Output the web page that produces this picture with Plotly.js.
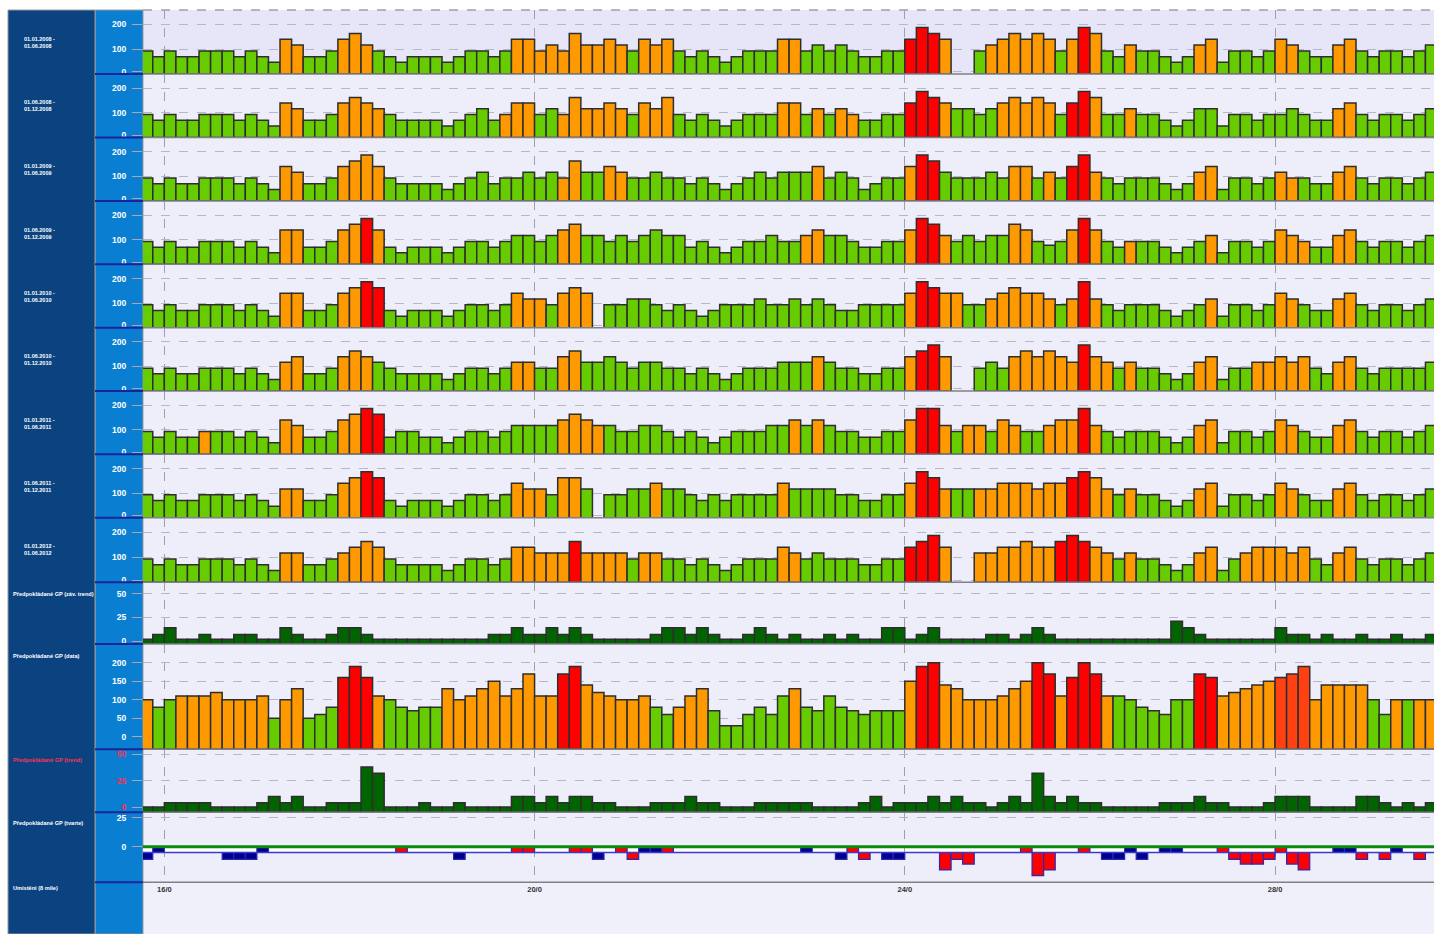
<!DOCTYPE html>
<html><head><meta charset="utf-8">
<script src="https://cdn.plot.ly/plotly-3.0.1.min.js"></script>
<style>html,body{margin:0;padding:0;background:#fff;overflow:hidden}#chart{width:1434px;height:934px}</style>
</head><body><div id="chart"></div>
<script>
// ---------------- DATA ----------------
const rowLabels = ['01.01.2008 -<br>01.06.2008','01.06.2008 -<br>01.12.2008','01.01.2009 -<br>01.06.2009','01.06.2009 -<br>01.12.2009','01.01.2010 -<br>01.06.2010','01.06.2010 -<br>01.12.2010','01.01.2011 -<br>01.06.2011','01.06.2011 -<br>01.12.2011','01.01.2012 -<br>01.06.2012'];
const tickLabelsX = ['16/0','20/0','24/0','28/0'];

const row1 = [93,70,93,70,70,93,93,93,70,93,70,47,140,117,70,70,93,140,163,117,93,70,47,70,70,70,47,70,93,93,70,93,140,140,93,117,93,163,117,117,140,117,93,140,117,140,93,70,93,70,47,70,93,93,93,140,140,93,117,93,117,93,70,70,93,93,140,187,163,140,null,null,93,117,140,163,140,163,140,93,140,187,163,93,70,117,93,93,70,47,70,117,140,47,93,93,70,93,140,117,93,70,70,117,140,93,70,93,93,70,93,117];
const row1c = 'g12 o2 g3 o3 g12 o10 g1 o3 g9 o2 g9 r3 o1 -2 g1 o6 g1 o1 r1 o1 g2 o1 g5 o2 g5 o2 g3 o2 g7';
const row2 = [93,70,93,70,70,93,93,93,70,93,70,47,140,117,70,70,93,140,163,140,117,93,70,70,70,70,47,70,93,117,70,93,140,140,93,117,93,163,117,117,140,117,93,140,117,163,93,70,93,70,47,70,93,93,93,140,140,93,117,93,117,93,70,70,93,93,140,187,163,140,117,117,93,117,140,163,140,163,140,93,140,187,163,93,93,117,93,93,70,47,70,117,117,47,93,93,70,93,93,117,93,70,70,117,140,93,70,93,93,70,93,117];
const row2c = 'g12 o2 g3 o4 g10 o3 g2 o6 g1 o3 g9 o2 g1 o1 g1 o2 g4 r3 o1 g4 o5 g1 r2 o1 g2 o1 g17 o2 g7';
const row3 = [93,70,93,70,70,93,93,93,70,93,70,47,140,117,70,70,93,140,163,187,140,93,70,70,70,70,47,70,93,117,70,93,93,117,93,117,93,163,117,117,140,117,93,93,117,93,93,70,93,70,47,70,93,117,93,117,117,117,140,93,117,93,47,70,93,93,140,187,163,117,93,93,93,117,93,140,140,93,117,93,140,187,117,93,70,93,93,93,70,47,70,117,140,47,93,93,70,93,117,93,93,70,70,117,140,93,70,93,93,70,93,117];
const row3c = 'g12 o2 g3 o4 g15 o2 g2 o2 g16 o1 g7 o1 r2 g6 o2 g1 o1 g1 r2 o1 g8 o2 g5 o2 g3 o2 g7';
const row4 = [93,70,93,70,70,93,93,93,70,93,70,47,140,140,70,70,93,140,163,187,140,70,47,70,70,70,47,70,93,93,70,93,117,117,93,117,140,163,117,117,93,117,93,117,140,117,117,70,93,70,47,70,93,93,117,93,93,117,140,117,117,93,70,70,93,93,140,187,163,117,93,117,93,117,117,163,140,93,78,93,140,187,140,93,70,93,93,93,70,47,70,93,117,47,93,93,70,93,140,117,93,70,70,117,140,93,70,93,93,70,93,117];
const row4c = 'g12 o2 g3 o2 r1 o1 g15 o2 g19 o2 g7 o1 r2 o1 g5 o2 g3 o1 r1 o1 g2 o1 g6 o1 g5 o3 g2 o2 g7';
const row5 = [93,70,93,70,70,93,93,93,70,93,70,47,140,140,70,70,93,140,163,187,163,70,47,70,70,70,47,70,93,93,70,93,140,117,117,93,140,163,140,null,93,93,117,117,93,70,93,70,47,70,93,93,93,117,93,93,117,93,117,93,70,70,93,93,93,93,140,187,163,140,140,93,93,117,140,163,140,140,117,93,117,187,117,93,70,93,93,93,70,47,70,93,117,47,93,93,70,93,140,117,93,70,70,117,140,93,70,93,93,70,93,117];
const row5c = 'g12 o2 g3 o2 r2 g11 o3 g1 o3 -1 g26 o1 r2 o2 g2 o6 g1 o1 r1 o1 g9 o1 g5 o2 g3 o2 g7';
const row6 = [93,70,93,70,70,93,93,93,70,93,70,47,117,140,70,70,93,140,163,140,117,93,70,70,70,70,47,70,93,93,70,93,117,117,93,93,140,163,117,117,140,117,93,117,117,93,93,70,93,70,47,70,93,93,93,117,117,117,140,117,93,93,70,70,93,93,140,163,187,140,null,null,93,117,93,140,163,140,163,140,117,187,140,117,93,117,93,93,70,47,70,117,140,47,93,93,117,117,140,117,140,93,70,117,140,93,70,93,93,93,93,117];
const row6c = 'g12 o2 g3 o3 g12 o2 g2 o2 g20 o1 g7 o1 r2 o1 -2 g3 o6 r1 o2 g1 o1 g5 o2 g3 o5 g2 o2 g7';
const row7 = [93,70,93,70,70,93,93,93,70,93,70,47,140,117,70,70,93,140,163,187,163,70,93,93,70,70,47,70,93,93,70,93,117,117,117,117,140,163,140,117,117,93,93,117,117,93,70,93,70,47,70,93,93,93,117,117,140,117,140,117,93,93,70,70,93,93,140,187,187,117,93,117,117,93,140,117,93,93,117,140,140,187,117,93,70,93,93,93,70,47,70,117,140,47,93,93,70,93,140,117,93,70,70,117,140,93,70,93,93,70,93,117];
const row7c = 'g5 o1 g6 o2 g3 o2 r2 g11 g4 o4 g15 g1 o1 g1 o1 g7 o1 r2 o1 g1 o2 g1 o2 g2 o3 r1 o1 g8 o2 g5 o2 g3 o2 g7';
const row8 = [93,70,93,70,70,93,93,93,70,93,70,47,117,117,70,70,93,140,163,187,163,70,47,70,70,70,47,70,93,93,70,93,140,117,117,93,163,163,117,null,93,93,117,117,140,117,117,93,70,93,70,93,93,93,93,140,117,117,117,117,93,93,70,70,93,93,140,187,163,117,117,117,117,117,140,140,140,117,140,140,163,187,163,117,93,117,93,93,70,47,70,117,140,47,93,93,70,93,140,117,93,70,70,117,140,93,70,93,93,70,93,117];
const row8c = 'g12 o2 g3 o2 r2 g11 o3 g1 o2 g1 -1 g4 o1 g10 o1 g10 o1 r2 o1 g2 o8 r2 o2 g1 o1 g5 o2 g5 o2 g3 o2 g7';
const row9 = [93,70,93,70,70,93,93,93,70,93,70,47,117,117,70,70,93,117,140,163,140,93,70,70,70,70,47,70,93,93,70,93,140,140,117,117,117,163,117,117,117,117,93,117,117,93,93,70,93,70,47,70,93,93,93,140,117,93,117,93,93,93,70,70,93,93,140,163,187,140,null,null,117,117,140,140,163,140,140,163,187,163,140,117,93,117,93,93,70,47,70,117,140,47,93,117,140,140,140,117,140,93,70,117,140,93,70,93,93,70,93,117];
const row9c = 'g12 o2 g3 o4 g11 o5 r1 o4 g1 o2 g10 o2 g9 r3 o1 -2 o7 r3 o2 g1 o1 g5 o2 g2 o6 g2 o2 g7';

// Předpokládané GP (záv. trend)
const trendZ = [2,7,14,2,2,7,2,2,7,7, 2,2,14,7,2,2,7,14,14,7, 2,2,2,2,2,2,2,2,2,2, 7,7,14,7,7,14,7,14,7,2, 2,2,2,2,7,14,14,7,14,7, 2,2,7,14,7,2,7,2,2,7, 2,7,2,2,14,14,2,7,14,2, 2,2,2,7,7,2,7,14,7,2, 2,2,2,2,2,2,2,2,2,21, 14,7,2,2,2,2,2,2,14,7, 7,2,7,2,2,7,2,2,7,2, 2,7];
// Předpokládané GP (data)
const dataGP = [100,80,100,110,110,110,120,100,100,100, 110,50,100,130,50,60,80,160,190,160, 110,100,80,70,80,80,130,100,110,130, 150,110,130,170,110,110,170,190,140,120, 110,100,100,110,80,60,80,110,130,70, 30,30,60,80,60,110,130,80,70,110, 80,70,60,70,70,70,150,190,200,140, 130,100,100,100,110,130,150,200,170,110, 160,200,170,110,110,100,80,70,60,100, 100,170,160,110,120,130,140,150,160,170, 190,100,140,140,140,140,100,60,100,100, 100,100];
const dataGPc = 'o1 g2 o8 g1 o2 g3 r3 o1 g5 o10 r2 o6 g2 o3 g7 o1 g9 o1 r2 o8 r2 o1 r3 o1 g7 r2 o5 R3 o5 g2 o1 g1 o2';
// Předpokládané GP (trend)
const trendT = [0,0,4,4,4,4,0,0,0,0, 4,10,4,10,0,0,4,4,4,38, 32,0,0,0,4,0,0,4,0,0, 0,0,10,10,4,10,4,10,10,4, 4,0,0,0,4,4,4,10,4,4, 0,0,0,4,4,4,4,4,0,0, 0,0,4,10,0,4,4,4,10,4, 10,4,4,0,4,10,4,32,10,4, 10,4,4,0,0,0,0,0,4,4, 4,10,4,4,0,0,0,4,10,10, 10,0,0,0,0,10,10,4,0,4, 0,4];
// Předpokládané GP (tvarte): small deviations inside the band, larger ones below it
const devTopC = '.n........' + 'n.........' + '..r.......' + '..rr...rr.' + '.r.nnr....' + '.......n..' + '.r........' + '......r...' + '.r...n..nn' + '...r....r.' + '...nn...n.' + '..';
const devLow = [-11,null,null,null,null,null,null,-11,-11,-11, null,null,null,null,null,null,null,null,null,null, null,null,null,null,null,null,null,-11,null,null, null,null,null,null,null,null,null,null,null,-11, null,null,-11,null,null,null,null,null,null,null, null,null,null,null,null,null,null,null,null,null, -11,null,-11,null,-11,-11,null,null,null,-20, -11,-15,null,null,null,null,null,-25,-20,null, null,null,null,-11,-11,null,-11,null,null,null, null,null,null,null,-11,-15,-15,-11,null,-15, -20,null,null,null,null,-11,null,-11,null,null, -11,null];
const devLowC = 'n......nnn' + '..........' + '.......n..' + '.........n' + '..r.......' + '..........' + 'n.r.nn...r' + 'rr.....rr.' + '...nn.n...' + '....rrrr.r' + 'r....r.r..' + 'r.';

// ---------------- HELPERS ----------------
const W = 1434, H = 934, N = 112;
const FONT = 'Liberation Sans, Arial, sans-serif';
const PAL = {g:'#66cc00', o:'#ff9900', r:'#ff0000', R:'#ff4010', d:'#006400', n:'#00008b', '-':'rgba(0,0,0,0)', '.':'rgba(0,0,0,0)'};
function runs(s){const out=[];s.split(' ').forEach(t=>{const c=t[0],n=+t.slice(1);for(let i=0;i<n;i++)out.push(PAL[c]);});while(out.length<N)out.push(PAL.g);return out.slice(0,N);}
const codes = s => s.split('').map(c => PAL[c]);
const px = v => v / W, py = v => 1 - v / H;

const t0 = Date.UTC(2000, 0, 15, 18, 0);     // first 3-hour slot starts 15/18
const SLOT = 3 * 3600e3;
const iso = ms => new Date(ms).toISOString().slice(0, 19).replace('T', ' ');
const xs = Array.from({length: N}, (_, i) => iso(t0 + i * SLOT + SLOT / 2));
const xRange = [iso(t0 + 0.156 * SLOT), iso(t0 + 111.74 * SLOT)];

const bounds = [10, 74, 137.5, 201, 264.3, 327.7, 391, 454.3, 517.7, 582.3, 644, 749.3, 812.3, 882.3];
const rows = [row1,row2,row3,row4,row5,row6,row7,row8,row9];
const rowsC = [row1c,row2c,row3c,row4c,row5c,row6c,row7c,row8c,row9c];

const traces = [];
const layout = {
  width: W, height: H, margin: {l:0, r:0, t:0, b:0},
  paper_bgcolor: '#ffffff', plot_bgcolor: '#eeeefa',
  showlegend: false, barmode: 'overlay', bargap: 0,
  font: {family: FONT},
  xaxis: {type:'date', domain:[px(143), 1], range: xRange, anchor:'y13',
    tickvals: ['2000-01-16','2000-01-20','2000-01-24','2000-01-28'], ticktext: tickLabelsX,
    showgrid:true, gridcolor:'#a0a0a8', griddash:'dash', gridwidth:1, zeroline:false, showline:false,
    ticks:'', tickfont:{family:FONT, size:7.5, color:'#333', weight:700}, ticklabelstandoff:1, fixedrange:true},
  shapes: [], annotations: []
};

function yax(i, range, tickvals, ticktext, extra){
  const top = bounds[i], bot = bounds[i+1];
  return Object.assign({domain:[py(bot), py(top)], range, anchor:'x', tickvals, ticktext,
    showgrid:true, gridcolor:'#b8b8c4', griddash:'dash', gridwidth:1, zeroline:false, showline:false,
    ticks:'outside', ticklen:10, tickcolor:'#a8a8b4', tickwidth:1, ticklabelstandoff:4,
    tickfont:{family:FONT, size:8.5, color:'#ffffff', weight:700}, fixedrange:true}, extra||{});
}

const barLine = {color:'#2e2e2e', width:1.5};
rows.forEach((vals, k) => {
  const ax = k === 0 ? '' : String(k+1);
  traces.push({type:'bar', x: xs, y: vals, yaxis:'y'+ax, marker:{color: runs(rowsC[k]), line: barLine}, hoverinfo:'skip'});
  layout['yaxis'+ax] = yax(k, [0, 258], [9,100,200], ['0','100','200']);
});
const b10 = -3;
traces.push({type:'bar', x: xs, y: trendZ.map(v => v - b10), base: b10, yaxis:'y10', marker:{color: PAL.d, line: barLine}, hoverinfo:'skip'});
layout.yaxis10 = yax(9, [-3, 62], [0,25,50], ['0','25','50']);
const b11 = -34;
traces.push({type:'bar', x: xs, y: dataGP.map(v => v - b11), base: b11, yaxis:'y11', marker:{color: runs(dataGPc), line: barLine}, hoverinfo:'skip'});
layout.yaxis11 = yax(10, [-34, 251], [0,50,100,150,200], ['0','50','100','150','200']);
const b12 = -5;
traces.push({type:'bar', x: xs, y: trendT.map(v => v - b12), base: b12, yaxis:'y12', marker:{color: PAL.d, line: barLine}, hoverinfo:'skip'});
layout.yaxis12 = yax(11, [-5, 54.7], [0,25,50], ['0','25','50'], {tickfont:{family:FONT, size:8.5, color:'#ff3050', weight:700}});
const band = -5;
traces.push({type:'bar', x: xs, y: devTopC.split('').map(c => c === '.' ? null : band), base: 0, yaxis:'y13',
  marker:{color: codes(devTopC), line:{color:'#2828b8', width:1.2}}, hoverinfo:'skip'});
traces.push({type:'bar', x: xs, y: devLow.map(v => v === null ? null : v - band), base: band, yaxis:'y13',
  marker:{color: codes(devLowC), line:{color:'#2828b8', width:1.2}}, hoverinfo:'skip'});
layout.yaxis13 = yax(12, [-30.7, 29.7], [0,25], ['0','25']);

// ---------------- DECORATION ----------------
const S = layout.shapes;
S.push({type:'rect', xref:'paper', yref:'paper', x0:px(143), x1:1, y0:0, y1:py(882.3), fillcolor:'#f0f0fa', line:{width:0}, layer:'below'});
S.push({type:'rect', xref:'paper', yref:'paper', x0:px(143), x1:1, y0:py(74), y1:py(10), fillcolor:'#e6e6f8', line:{width:0}, layer:'below'});
S.push({type:'rect', xref:'paper', yref:'paper', x0:px(8), x1:px(95), y0:0, y1:py(10), fillcolor:'#0b4380', line:{color:'#9a9a9a', width:1}, layer:'above'});
S.push({type:'rect', xref:'paper', yref:'paper', x0:px(95), x1:px(143), y0:0, y1:py(10), fillcolor:'#0a7fd1', line:{color:'#9a9a9a', width:1}, layer:'below'});
S.push({type:'line', xref:'paper', yref:'paper', x0:px(143), x1:1, y0:py(10), y1:py(10), line:{color:'#a0a0a8', width:1.5, dash:'dash'}});
bounds.slice(1).forEach(b => {
  S.push({type:'line', xref:'paper', yref:'paper', x0:px(143), x1:1, y0:py(b), y1:py(b), line:{color:'#808088', width:1.5}});
  S.push({type:'line', xref:'paper', yref:'paper', x0:px(95), x1:px(143), y0:py(b), y1:py(b), line:{color:'#1a239a', width:2}});
});
S.push({type:'rect', xref:'paper', yref:'y13', x0:px(143), x1:1, y0:band, y1:0, fillcolor:'#ffffff', line:{width:0}, layer:'below'});
S.push({type:'line', xref:'paper', yref:'y13', x0:px(143), x1:1, y0:band, y1:band, line:{color:'#3a3ad0', width:1.5}});
S.push({type:'line', xref:'paper', yref:'y13', x0:px(143), x1:1, y0:0, y1:0, line:{color:'#0a8a0a', width:3}});

const A = layout.annotations;
rowLabels.forEach((t, k) => {
  A.push({xref:'paper', yref:'paper', x:px(22), y:py(bounds[k] + 32), xanchor:'left', yanchor:'middle', align:'left', showarrow:false,
    text:t, font:{family:FONT, size:5.5, color:'#ffffff', weight:700}});
});
const lowLabels = [
  {t:'Předpokládané GP (záv. trend)', y:594, c:'#ffffff'},
  {t:'Předpokládané GP (data)', y:656, c:'#ffffff'},
  {t:'Předpokládané GP (trend)', y:760, c:'#ff3050'},
  {t:'Předpokládané GP (tvarte)', y:823, c:'#ffffff'},
  {t:'Umístění (8 mile)', y:888, c:'#ffffff'}
];
lowLabels.forEach(l => A.push({xref:'paper', yref:'paper', x:px(11), y:py(l.y), xanchor:'left', yanchor:'middle', showarrow:false,
  text:l.t, font:{family:FONT, size:5.6, color:l.c, weight:700}}));

Plotly.newPlot('chart', traces, layout, {staticPlot:true, displayModeBar:false});
</script>
</body></html>
